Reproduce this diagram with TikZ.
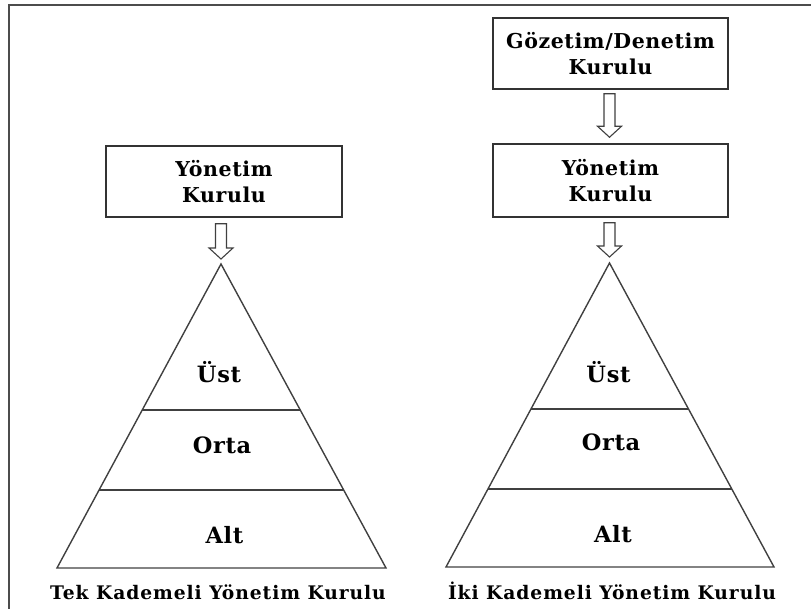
\documentclass[tikz,border=0pt]{standalone}
\usepackage{fontspec}
\setmainfont{DejaVu Serif}
\newfontfamily\trk[LetterSpace=3]{DejaVu Serif}
\newfontfamily\trkc[LetterSpace=5]{DejaVu Serif}
\usetikzlibrary{calc}
\newcommand\hollowarrow[2]{%
  \draw[harr] ($(#1)+(-5.5,0)$) -- ($(#2)+(-5.5,-11)$) -- ($(#2)+(-12,-11)$) -- (#2)
    -- ($(#2)+(12,-11)$) -- ($(#2)+(5.5,-11)$) -- ($(#1)+(5.5,0)$) -- cycle;}
\begin{document}
\begin{tikzpicture}[x=1pt,y=-1pt,
  frameline/.style={draw=black!70, line width=1.2pt},
  shp/.style={draw=black!75, line width=1.4pt},
  box/.style={draw=black!80, line width=1.5pt, align=center, inner sep=0pt,
    font=\trk\bfseries\fontsize{20.5}{26}\selectfont},
  lvl/.style={font=\trk\bfseries\fontsize{22.5}{28}\selectfont, inner sep=0pt, anchor=base},
  capt/.style={font=\trkc\bfseries\fontsize{18.7}{24}\selectfont, inner sep=0pt, anchor=base},
  harr/.style={draw=black!75, line width=1.1pt, fill=white}]
\useasboundingbox (0,0) rectangle (811,609);
% frame
\draw[frameline] (9,609) -- (9,5) -- (811,5);

% left side
\coordinate (lap) at (221,264);
\coordinate (lbl) at (57,568);
\coordinate (lbr) at (386,568);
\node[box, minimum width=236pt, minimum height=71pt] (lyk) at (224,181.5) {Yönetim\\Kurulu};
\draw[shp] (lap) -- (lbr) -- (lbl) -- cycle;
\draw[shp] ($(lap)!0.48!(lbl)$) -- ($(lap)!0.48!(lbr)$);
\draw[shp] ($(lap)!0.743!(lbl)$) -- ($(lap)!0.743!(lbr)$);
\coordinate (la1) at ($(lyk.south -| lap)+(0,6)$);
\coordinate (la2) at ($(lap)+(0,-5)$);
\hollowarrow{la1}{la2}
\node[lvl] (lust) at (219,383) {Üst};
\node[lvl] (lorta) at (222,453) {Orta};
\node[lvl] (lalt) at (224.5,543) {Alt};
\node[capt] (lcap) at (218,599) {Tek Kademeli Yönetim Kurulu};

% right side
\coordinate (rap) at (609.5,263);
\coordinate (rbl) at (446,567);
\coordinate (rbr) at (774,567);
\node[box, minimum width=235pt, minimum height=71pt] (gdk) at (610.5,53.5) {Gözetim/Denetim\\Kurulu};
\node[box, minimum width=235pt, minimum height=73pt] (ryk) at (610.5,180.5) {Yönetim\\Kurulu};
\draw[shp] (rap) -- (rbr) -- (rbl) -- cycle;
\draw[shp] ($(rap)!0.48!(rbl)$) -- ($(rap)!0.48!(rbr)$);
\draw[shp] ($(rap)!0.743!(rbl)$) -- ($(rap)!0.743!(rbr)$);
\coordinate (ra1) at ($(gdk.south -| rap)+(0,4)$);
\coordinate (ra2) at ($(ryk.north -| rap)+(0,-6)$);
\hollowarrow{ra1}{ra2}
\coordinate (ra3) at ($(ryk.south -| rap)+(0,5)$);
\coordinate (ra4) at ($(rap)+(0,-6)$);
\hollowarrow{ra3}{ra4}
\node[lvl] (rust) at (608.5,382) {Üst};
\node[lvl] (rorta) at (611,450) {Orta};
\node[lvl] (ralt) at (613,542) {Alt};
\node[capt] (rcap) at (612,599) {İki Kademeli Yönetim Kurulu};
\end{tikzpicture}
\end{document}
